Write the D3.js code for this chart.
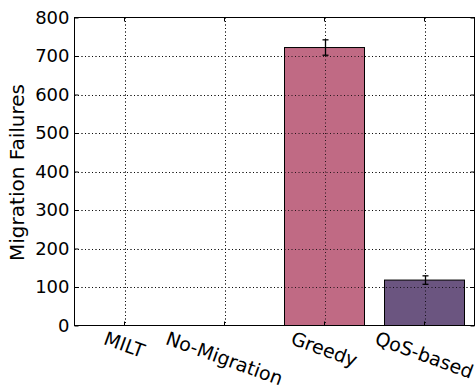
<!DOCTYPE html>
<html>
<head>
<meta charset="utf-8">
<script src="https://cdn.jsdelivr.net/npm/d3@7"></script>
<style>
  html, body { margin: 0; padding: 0; background: #fff; }
  svg { display: block; font-family: "DejaVu Sans", sans-serif; }
</style>
</head>
<body>
<svg id="chart" width="476" height="387"></svg>
<script>
// Migration failures per strategy, with error bar half-widths
const categories = ["MILT", "No-Migration", "Greedy", "QoS-based"];
const failures = [0, 0, 722, 118];
const errors = [0, 0, 20, 11];
const barColors = ["#c06a84", "#c06a84", "#c06a84", "#6b5580"];
const yTicks = [0, 100, 200, 300, 400, 500, 600, 700, 800];

const svg = d3.select("#chart");
const m = { left: 74.5, right: 474.5, top: 17.5, bottom: 325.5 };

const x = d3.scaleBand().domain(categories).range([m.left, m.right]).paddingInner(0.2).paddingOuter(0.1);
const y = d3.scaleLinear().domain([0, 800]).range([m.bottom, m.top]);

function drawGrid() {
  const g = svg.append("g").attr("stroke", "#000").attr("stroke-width", 1)
    .attr("stroke-dasharray", "1,2.5").attr("opacity", 0.8);
  yTicks.slice(1, -1).forEach(t => {
    g.append("line").attr("x1", m.left).attr("x2", m.right)
      .attr("y1", Math.round(y(t)) + 0.5).attr("y2", Math.round(y(t)) + 0.5);
  });
  categories.forEach(c => {
    const cx = Math.round(x(c) + x.bandwidth() / 2) + 0.5;
    g.append("line").attr("x1", cx).attr("x2", cx).attr("y1", m.top).attr("y2", m.bottom);
  });
}

drawGrid();

// Bars
svg.append("g").selectAll("rect").data(categories).join("rect")
  .attr("x", d => x(d))
  .attr("width", x.bandwidth())
  .attr("y", (d, i) => y(failures[i]))
  .attr("height", (d, i) => y(0) - y(failures[i]))
  .attr("fill", (d, i) => barColors[i])
  .attr("stroke", (d, i) => failures[i] > 0 ? "#000" : "none")
  .attr("stroke-width", 1);

// Grid lines also show on top of the bars
drawGrid();

// Error bars
const eb = svg.append("g").attr("stroke", "#000").attr("stroke-width", 1.3);
categories.forEach((c, i) => {
  if (errors[i] <= 0) return;
  const cx = Math.round(x(c) + x.bandwidth() / 2) + 0.5;
  const y1 = y(failures[i] + errors[i]), y0 = y(failures[i] - errors[i]);
  eb.append("line").attr("x1", cx).attr("x2", cx).attr("y1", y1).attr("y2", y0);
  eb.append("line").attr("x1", cx - 3).attr("x2", cx + 3).attr("y1", y1).attr("y2", y1);
  eb.append("line").attr("x1", cx - 3).attr("x2", cx + 3).attr("y1", y0).attr("y2", y0);
});

// Frame
svg.append("rect").attr("x", m.left).attr("y", m.top)
  .attr("width", m.right - m.left).attr("height", m.bottom - m.top)
  .attr("fill", "none").attr("stroke", "#000").attr("stroke-width", 1);

// Y axis ticks and labels
const yAxis = d3.axisLeft(y).tickValues(yTicks).tickSize(-4).tickPadding(5);
const gy = svg.append("g").attr("transform", `translate(${m.left},0)`).call(yAxis);
gy.select(".domain").remove();
gy.selectAll("text").attr("font-size", 18).attr("fill", "#000").attr("font-family", "DejaVu Sans");
const yAxisR = d3.axisRight(y).tickValues(yTicks).tickSize(-4).tickFormat("");
const gyr = svg.append("g").attr("transform", `translate(${m.right},0)`).call(yAxisR);
gyr.select(".domain").remove();

// X axis ticks
const xAxis = d3.axisBottom(x).tickSize(-4).tickFormat("");
const gx = svg.append("g").attr("transform", `translate(0,${m.bottom})`).call(xAxis);
gx.select(".domain").remove();
const xAxisT = d3.axisTop(x).tickSize(-4).tickFormat("");
const gxt = svg.append("g").attr("transform", `translate(0,${m.top})`).call(xAxisT);
gxt.select(".domain").remove();

// Rotated category labels, centred under each tick
const angle = 20, rad = angle * Math.PI / 180;
const xl = svg.append("g");
categories.forEach(c => {
  const t = xl.append("text").text(c).attr("font-size", 19).attr("fill", "#000")
    .attr("text-anchor", "middle").attr("dominant-baseline", "central");
  const w = t.node().getComputedTextLength();
  const h = 15;
  const bh = w * Math.sin(rad) + h * Math.cos(rad);
  const cx = x(c) + x.bandwidth() / 2;
  const cy = m.bottom + 4.5 + bh / 2;
  t.attr("transform", `translate(${cx},${cy}) rotate(${angle})`);
});

// Y axis title
svg.append("text").text("Migration Failures")
  .attr("font-size", 20).attr("fill", "#000").attr("text-anchor", "middle")
  .attr("transform", `translate(24,${(m.top + m.bottom) / 2 + 1}) rotate(-90)`);
</script>
</body>
</html>
